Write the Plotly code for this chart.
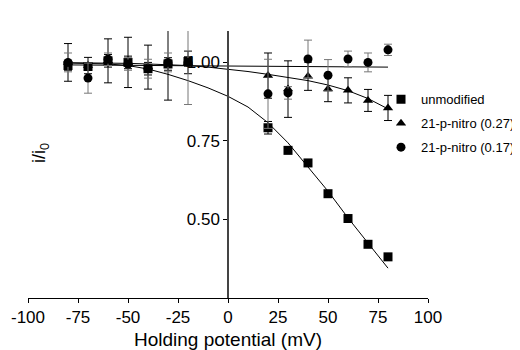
import plotly.graph_objects as go

# Holding potential (mV)
volts = [-80, -70, -60, -50, -40, -30, -20, 20, 30, 40, 50, 60, 70, 80]

# unmodified
unmod_y = [0.99, 0.987, 1.005, 1.0, 0.98, 0.995, 1.003, 0.792, 0.72, 0.68, 0.582, 0.503, 0.421, 0.381]
unmod_err = [0.015, 0.01, 0.02, 0.02, 0.02, 0.02, 0.015, 0.02, 0, 0, 0, 0, 0, 0]

# 21-p-nitro (0.27)
nitro27_y = [1.0, 0.99, 1.005, 1.0, 0.985, 1.0, 1.0, 0.958, 0.915, 0.956, 0.915, 0.911, 0.879, 0.855]
nitro27_err = [0.06, 0.026, 0.07, 0.08, 0.07, 0.12, 0.036, 0.072, 0.09, 0.045, 0.04, 0.04, 0.035, 0.04]

# 21-p-nitro (0.17)
nitro17_y = [1.0, 0.95, 1.01, 0.995, 0.98, 1.0, 1.0, 0.90, 0.903, 1.011, 0.959, 1.011, 1.0, 1.04]
nitro17_err = [0.03, 0.048, 0.02, 0.02, 0.03, 0.03, 0.134, 0.11, 0.02, 0.06, 0.05, 0.025, 0.03, 0.018]

# fitted curves
fit_x = [-80, -70, -60, -50, -40, -30, -20, -10, 0, 10, 20, 30, 40, 50, 60, 70, 80]
fit_unmod = [0.998, 0.997, 0.995, 0.99, 0.979, 0.962, 0.942, 0.919, 0.892, 0.858, 0.808, 0.744, 0.668, 0.59, 0.505, 0.424, 0.345]
fit_n27 = [0.999, 0.999, 0.998, 0.997, 0.995, 0.993, 0.99, 0.985, 0.979, 0.971, 0.962, 0.953, 0.942, 0.928, 0.91, 0.885, 0.852]
fit_n17_x = [-80, 80]
fit_n17 = [0.992, 0.985]

labels = ["unmodified", "21-p-nitro (0.27)", "21-p-nitro (0.17)"]
x_ticks = [-100, -75, -50, -25, 0, 25, 50, 75, 100]
x_ticktext = ["-100", "-75", "-50", "-25", "0", "25", "50", "75", "100"]
y_ticks = [0.5, 0.75, 1.0]
y_ticktext = ["0.50", "0.75", "1.00"]

fig = go.Figure()

for fy in [fit_unmod, fit_n27]:
    fig.add_trace(go.Scatter(x=fit_x, y=fy, mode="lines", line=dict(color="black", width=1),
                             showlegend=False, hoverinfo="skip", cliponaxis=False))
fig.add_trace(go.Scatter(x=fit_n17_x, y=fit_n17, mode="lines", line=dict(color="black", width=1),
                         showlegend=False, hoverinfo="skip", cliponaxis=False))

fig.add_trace(go.Scatter(x=volts, y=unmod_y, mode="markers", name=labels[0], legendgroup="a",
                         marker=dict(symbol="square", size=9, color="black"),
                         error_y=dict(type="data", array=unmod_err, color="black", thickness=1, width=4),
                         cliponaxis=False))
fig.add_trace(go.Scatter(x=volts, y=nitro27_y, mode="markers", name=labels[1], legendgroup="b",
                         marker=dict(symbol="triangle-up", size=9, color="black"),
                         error_y=dict(type="data", array=nitro27_err, color="black", thickness=1, width=4),
                         cliponaxis=False))
fig.add_trace(go.Scatter(x=volts, y=nitro17_y, mode="markers", name=labels[2], legendgroup="c",
                         marker=dict(symbol="circle", size=9, color="black"),
                         error_y=dict(type="data", array=nitro17_err, color="#777", thickness=1, width=4),
                         cliponaxis=False))

fig.update_layout(
    width=512, height=342,
    margin=dict(l=20, r=92, t=23, b=52, autoexpand=False),
    paper_bgcolor="white", plot_bgcolor="white",
    font=dict(family="Liberation Sans, Arial, sans-serif", color="black", size=16),
    xaxis=dict(range=[-100, 100], tickvals=x_ticks, ticktext=x_ticktext, automargin=False,
               showgrid=False, zeroline=False, showline=True, linecolor="black", linewidth=1,
               ticks="outside", ticklen=4, tickcolor="black", tickfont=dict(size=17),
               title=dict(text="Holding potential (mV)", font=dict(size=19), standoff=6)),
    yaxis=dict(range=[0.25, 1.10], tickvals=y_ticks, ticktext=y_ticktext, automargin=False,
               anchor="free", position=0.5,
               showgrid=False, zeroline=False, showline=True, linecolor="#444", linewidth=1.5,
               ticks="outside", ticklen=4, tickcolor="black", tickfont=dict(size=17)),
    legend=dict(x=0.8825, xanchor="left", y=0.80, yanchor="top", font=dict(size=13),
                traceorder="grouped", bgcolor="rgba(0,0,0,0)", tracegroupgap=4, borderwidth=0),
    annotations=[dict(text="i/i<sub>0</sub>", x=(32 - 20) / 400, xref="paper", xanchor="center",
                      y=0.543, yref="paper", yanchor="middle",
                      showarrow=False, textangle=-90, font=dict(size=18))],
)

fig.write_html("out.html")
